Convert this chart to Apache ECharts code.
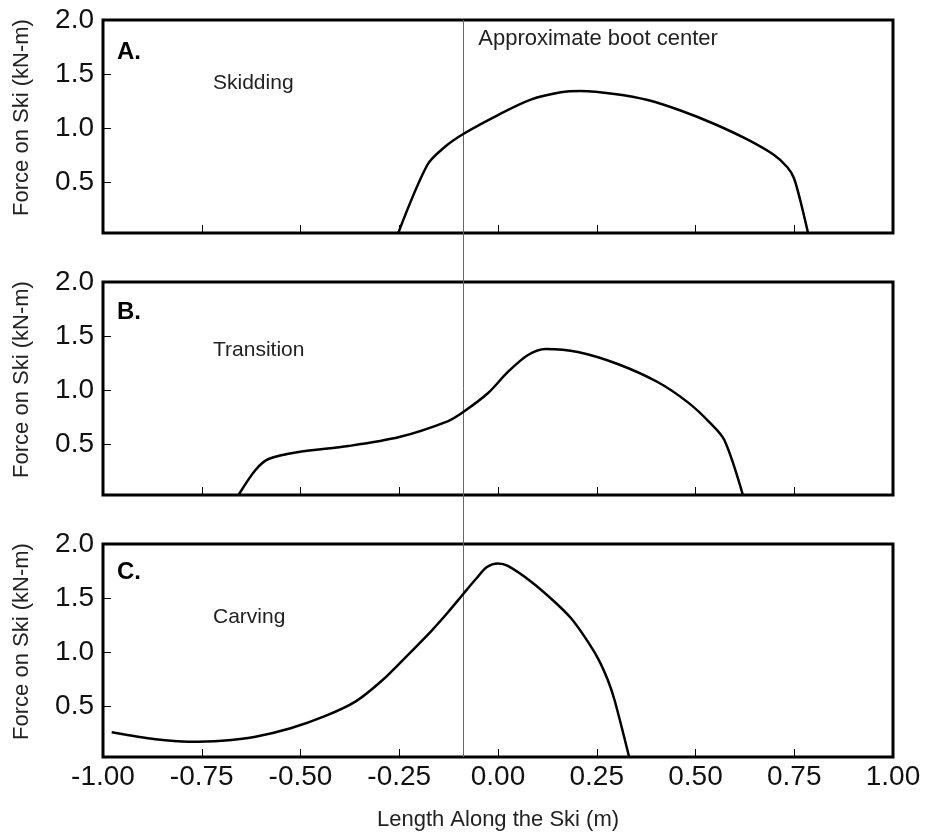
<!DOCTYPE html>
<html><head><meta charset="utf-8">
<script src="https://cdn.jsdelivr.net/npm/echarts@6/dist/echarts.min.js"></script>
<style>html,body{margin:0;padding:0;background:#fff}#c{width:926px;height:834px}</style>
</head><body><div id="c"></div>
<script>
const panelLetters = ['A.', 'B.', 'C.'];
const panelNames = ['Skidding', 'Transition', 'Carving'];
const xTickValues = [-1, -0.75, -0.5, -0.25, 0, 0.25, 0.5, 0.75, 1];
const yTickValues = [0.5, 1.0, 1.5, 2.0];
const bootCenter = -0.088;
const bootLabel = 'Approximate boot center';
const yTitle = 'Force on Ski (kN-m)';
const xTitle = 'Length Along the Ski (m)';

const skidding = [[-0.2525,0.03],[-0.179,0.659],[-0.135,0.825],[-0.088,0.946],[0,1.121],[0.083,1.263],[0.159,1.331],[0.21,1.343],[0.295,1.316],[0.379,1.26],[0.462,1.163],[0.548,1.038],[0.631,0.895],[0.699,0.751],[0.732,0.64],[0.749,0.539],[0.765,0.335],[0.785,0.03]];
const transition = [[-0.657,0.03],[-0.614,0.261],[-0.581,0.363],[-0.505,0.428],[-0.379,0.483],[-0.25,0.566],[-0.126,0.714],[-0.088,0.797],[-0.025,0.973],[0.025,1.168],[0.076,1.325],[0.121,1.38],[0.202,1.353],[0.303,1.242],[0.404,1.075],[0.480,0.889],[0.535,0.705],[0.573,0.539],[0.62,0.03]];
const carving = [[-0.978,0.258],[-0.867,0.194],[-0.783,0.171],[-0.699,0.181],[-0.614,0.218],[-0.525,0.296],[-0.44,0.405],[-0.36,0.545],[-0.295,0.733],[-0.236,0.945],[-0.169,1.195],[-0.126,1.371],[-0.088,1.538],[-0.056,1.676],[-0.028,1.787],[0,1.820],[0.025,1.797],[0.084,1.651],[0.143,1.466],[0.185,1.313],[0.219,1.143],[0.253,0.943],[0.278,0.742],[0.295,0.557],[0.332,0.03]];
const seriesData = [skidding, transition, carving];

const FONT = '"Liberation Sans", Arial, Helvetica, sans-serif';
const tops = [20, 282, 544];
const H = 213;
const chart = echarts.init(document.getElementById('c'), null, {renderer: 'canvas'});

const grids = [], xAxes = [], yAxes = [], series = [];
for (let i = 0; i < 3; i++) {
  grids.push({left: 103, right: 33, top: tops[i], height: H, show: true, borderColor: '#000', borderWidth: 3, backgroundColor: 'transparent', containLabel: false});
  const last = i === 2;
  xAxes.push({
    type: 'value', gridIndex: i, min: -1, max: 1, interval: 0.25,
    axisLine: {show: false, onZero: false}, splitLine: {show: false},
    axisTick: {show: true, inside: true, length: 8, lineStyle: {color: '#000', width: 1}, customValues: xTickValues.slice(1, -1)},
    axisLabel: {show: last, margin: 6, fontSize: 28, color: '#111', fontFamily: FONT, customValues: xTickValues, formatter: v => v.toFixed(2)},
    name: last ? xTitle : '', nameLocation: 'middle', nameGap: 52,
    nameTextStyle: {fontSize: 22, color: '#222', fontFamily: FONT}
  });
  yAxes.push({
    type: 'value', gridIndex: i, min: 0.03, max: 2.0,
    axisLine: {show: false, onZero: false}, splitLine: {show: false},
    axisTick: {show: true, inside: true, length: 8, lineStyle: {color: '#000', width: 1}, customValues: yTickValues.slice(0, -1)},
    axisLabel: {show: true, margin: 9, fontSize: 28, color: '#111', fontFamily: FONT, customValues: yTickValues, formatter: v => v.toFixed(1)},
    name: yTitle, nameLocation: 'middle', nameGap: 70, nameRotate: 90,
    nameTextStyle: {fontSize: 22, color: '#222', fontFamily: FONT, padding: [0, 0, 0, 18]}
  });
  series.push({
    type: 'line', xAxisIndex: i, yAxisIndex: i, data: seriesData[i],
    smooth: 0.3, showSymbol: false, symbol: 'none',
    lineStyle: {color: '#000', width: 2.5}, z: 5, animation: false
  });
}

chart.setOption({
  animation: false,
  backgroundColor: '#fff',
  textStyle: {fontFamily: FONT},
  grid: grids, xAxis: xAxes, yAxis: yAxes, series: series
});

const pTop = chart.convertToPixel({gridIndex: 0}, [bootCenter, 2.0]);
const pBot = chart.convertToPixel({gridIndex: 2}, [bootCenter, 0.03]);
const letterY = [52, 312, 572];
const nameY = [83, 350, 617];
const graphic = [
  {type: 'line', shape: {x1: Math.round(pTop[0]) + 0.5, y1: pTop[1], x2: Math.round(pTop[0]) + 0.5, y2: pBot[1]}, style: {stroke: '#666', lineWidth: 1}, z: 4},
  {type: 'text', x: pTop[0] + 15, y: 39, style: {text: bootLabel, font: '22px ' + FONT, fill: '#222', verticalAlign: 'middle'}, z: 6}
];
for (let i = 0; i < 3; i++) {
  graphic.push({type: 'text', x: 117, y: letterY[i], style: {text: panelLetters[i], font: 'bold 24px ' + FONT, fill: '#000', verticalAlign: 'middle'}, z: 6});
  graphic.push({type: 'text', x: 213, y: nameY[i], style: {text: panelNames[i], font: '21px ' + FONT, fill: '#222', verticalAlign: 'middle'}, z: 6});
}
chart.setOption({graphic: graphic});
</script></body></html>
